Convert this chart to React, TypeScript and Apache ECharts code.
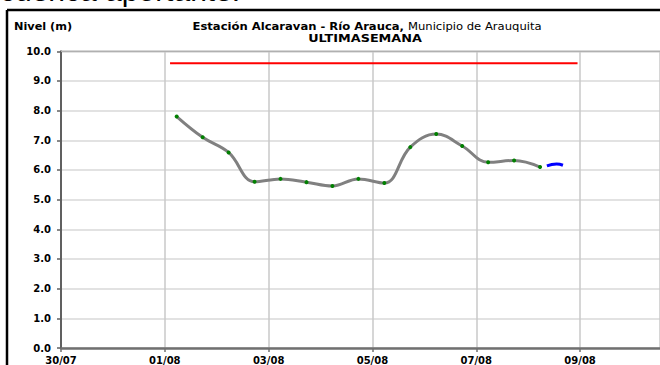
import React, { useEffect, useRef } from "react";
import * as echarts from "echarts";

const xTickLabels = ["30/07", "01/08", "03/08", "05/08", "07/08", "09/08"];
const yTickMax = 10;

const obsTimes = [
  "01/08 05:30", "01/08 17:30", "02/08 05:30", "02/08 17:30", "03/08 05:30",
  "03/08 17:30", "04/08 05:30", "04/08 17:30", "05/08 05:30", "05/08 17:30",
  "06/08 05:30", "06/08 17:30", "07/08 05:30", "07/08 17:30", "08/08 05:30",
];
const obsLevels = [7.8, 7.1, 6.59, 5.6, 5.7, 5.59, 5.46, 5.7, 5.56, 6.77, 7.21, 6.81, 6.26, 6.32, 6.1];

const fcTimes = ["08/08 08:40", "08/08 13:10", "08/08 16:05"];
const fcLevels = [6.14, 6.2, 6.16];

const alertTimes = ["01/08 02:25", "08/08 22:50"];
const alertLevels = [9.6, 9.6];

// days since 30/07 00:00
function toDay(s: string): number {
  const [d, t] = s.split(" ");
  const [dd, mm] = d.split("/").map(Number);
  const [hh, mi] = (t || "00:00").split(":").map(Number);
  const base = mm === 7 ? dd - 30 : dd + 1;
  return base + (hh + mi / 60) / 24;
}

const pairs = (ts: string[], vs: number[]) => ts.map((t, i) => [toDay(t), vs[i]]);

const FONT = "DejaVu Sans";

export default function App() {
  const ref = useRef<HTMLDivElement>(null);
  useEffect(() => {
    if (!ref.current) return;
    const chart = echarts.init(ref.current, undefined, { renderer: "svg" });
    chart.setOption({
      animation: false,
      backgroundColor: "#ffffff",
      grid: { left: 61, top: 51.3, bottom: 16.7, right: 0, containLabel: false },
      xAxis: {
        type: "value",
        min: 0,
        max: 11.54,
        interval: 2,
        axisLine: { show: true, lineStyle: { color: "#707070", width: 2.5 } },
        axisTick: { show: true, length: 4, lineStyle: { color: "#707070", width: 1.5 } },
        axisLabel: {
          margin: 7,
          color: "#000",
          fontFamily: FONT,
          fontWeight: "bold",
          fontSize: 10,
          showMaxLabel: false,
          formatter: (v: number) => {
            const i = Math.round(v / 2);
            return Math.abs(v - i * 2) < 1e-6 && i < xTickLabels.length ? xTickLabels[i] : "";
          },
        },
        splitLine: { show: true, lineStyle: { color: "#c8c8c8", width: 1.5 } },
      },
      yAxis: {
        type: "value",
        min: 0,
        max: yTickMax,
        interval: 1,
        axisLine: { show: true, lineStyle: { color: "#606060", width: 2 } },
        axisTick: { show: true, length: 4, lineStyle: { color: "#606060", width: 1.5 } },
        axisLabel: {
          margin: 10,
          color: "#000",
          fontFamily: FONT,
          fontWeight: "bold",
          fontSize: 10,
          formatter: (v: number) => v.toFixed(1),
        },
        splitLine: { show: true, lineStyle: { color: "#d8d8d8", width: 1.5 } },
      },
      graphic: [
        {
          type: "text",
          x: 0,
          y: -9.5,
          style: {
            text: "cuenca aportante.",
            fontFamily: "Liberation Sans",
            fontSize: 30,
            fill: "#000",
            verticalAlign: "middle",
          },
        },
        { type: "line", shape: { x1: 7, y1: 10, x2: 660, y2: 10 }, style: { stroke: "#000", lineWidth: 2.5 } },
        { type: "line", shape: { x1: 7, y1: 10, x2: 7, y2: 365 }, style: { stroke: "#000", lineWidth: 2.5 } },
        {
          type: "line",
          shape: { x1: 61, y1: 51.3, x2: 660, y2: 51.3 },
          style: { stroke: "#b0b0b0", lineWidth: 1.5 },
          z: 1,
        },
        {
          type: "text",
          x: 14,
          y: 27,
          scaleX: 1.13,
          style: {
            text: "Nivel (m)",
            fontFamily: FONT,
            fontWeight: "bold",
            fontSize: 10,
            fill: "#000",
            verticalAlign: "middle",
          },
        },
        {
          type: "text",
          x: 367,
          y: 27,
          scaleX: 1.16,
          style: {
            text: "{b|Estación Alcaravan - Río Arauca,}{n| Municipio de Arauquita}",
            align: "center",
            verticalAlign: "middle",
            fill: "#000",
            rich: {
              b: { fontFamily: FONT, fontWeight: "bold", fontSize: 10, fill: "#000" },
              n: { fontFamily: FONT, fontSize: 10, fill: "#000" },
            },
          },
        },
        {
          type: "text",
          x: 365,
          y: 38.5,
          scaleX: 1.28,
          style: {
            text: "ULTIMASEMANA",
            align: "center",
            verticalAlign: "middle",
            fontFamily: FONT,
            fontWeight: "bold",
            fontSize: 10,
            fill: "#000",
          },
        },
      ],
      series: [
        {
          type: "line",
          data: pairs(alertTimes, alertLevels),
          symbol: "none",
          lineStyle: { color: "#ff0000", width: 2 },
          silent: true,
          z: 3,
        },
        {
          type: "line",
          data: pairs(obsTimes, obsLevels),
          smooth: 0.4,
          symbol: "circle",
          symbolSize: 4,
          showSymbol: true,
          itemStyle: { color: "#008000", borderWidth: 0 },
          lineStyle: { color: "#808080", width: 3 },
          z: 4,
        },
        {
          type: "line",
          data: pairs(fcTimes, fcLevels),
          smooth: 0.5,
          symbol: "none",
          lineStyle: { color: "#0000ff", width: 3 },
          z: 4,
        },
      ],
    });
    return () => chart.dispose();
  }, []);
  return (
    <div
      ref={ref}
      style={{ position: "fixed", left: 0, top: 0, width: 660, height: 365, background: "#fff" }}
    />
  );
}
